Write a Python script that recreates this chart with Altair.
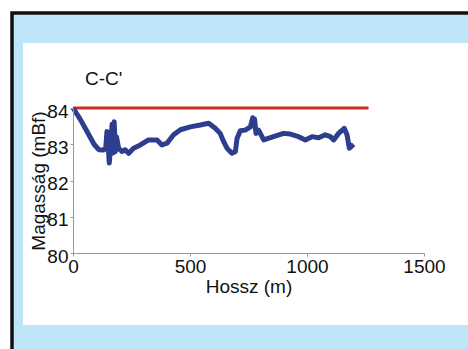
import altair as alt
import pandas as pd

# Profile C-C' : distance along section (m) and elevation (mBf)
hossz = [0, 30, 60, 90, 110, 131, 140, 145, 150, 155, 160, 167, 172, 176, 181, 186,
         195, 209, 223, 238, 259, 288, 323, 359, 380, 402, 430, 459, 501, 544, 580,
         608, 629, 644, 658, 679, 694, 701, 715, 736, 758, 768, 772, 776, 782, 793,
         815, 857, 900, 929, 964, 993, 1021, 1050, 1078, 1100, 1114, 1135, 1159,
         1171, 1181, 1188, 1199]
magassag = [84.0, 83.7, 83.35, 83.0, 82.85, 82.84, 82.9, 83.35, 83.0, 82.48, 82.9,
            83.55, 82.76, 83.62, 82.8, 83.2, 82.89, 82.8, 82.85, 82.75, 82.89, 82.98,
            83.12, 83.12, 82.98, 83.03, 83.26, 83.4, 83.48, 83.53, 83.58, 83.44, 83.3,
            83.07, 82.89, 82.75, 82.8, 83.16, 83.37, 83.39, 83.48, 83.73, 83.5, 83.7,
            83.3, 83.39, 83.12, 83.21, 83.3, 83.28, 83.21, 83.12, 83.21, 83.18, 83.26,
            83.21, 83.12, 83.3, 83.44, 83.26, 82.89, 82.93, 83.0]

ref_hossz = [0, 1263]
ref_magassag = [84, 84]

x_ticks = [0, 500, 1000, 1500]
y_ticks = [80, 81, 82, 83, 84]

profile = pd.DataFrame({"Hossz": hossz, "Magassag": magassag,
                        "i": list(range(len(hossz)))})
ref = pd.DataFrame({"Hossz": ref_hossz, "Magassag": ref_magassag})

FONT = "Liberation Sans"
FS = 19

xscale = alt.Scale(domain=[0, 1500], nice=False, zero=False)
yscale = alt.Scale(domain=[80, 84], nice=False, zero=False)

xaxis = alt.Axis(title="Hossz (m)", values=x_ticks, format="d", labelFlush=False,
                 grid=False, domainColor="#999999", tickColor="#999999", tickSize=3,
                 labelPadding=1, titlePadding=1, labelFontSize=FS, titleFontSize=FS,
                 labelFont=FONT, titleFont=FONT, labelColor="#111111",
                 titleColor="#111111", titleFontWeight="normal", zindex=1)
yaxis = alt.Axis(title="Magasság (mBf)", values=y_ticks, format="d", grid=False,
                 domainColor="#999999", tickColor="#999999", tickSize=3,
                 labelPadding=2, labelOffset=3, titlePadding=-2, labelFontSize=FS,
                 titleFontSize=FS, labelFont=FONT, titleFont=FONT,
                 labelColor="#111111", titleColor="#111111",
                 titleFontWeight="normal", zindex=1)

# Decorative frame (black border, light-blue panel, white inner panel)
frame = alt.Chart(pd.DataFrame({"a": [0]})).mark_rect(
    fill="#bfe6f8", stroke="#111111", strokeWidth=3.5
).encode(x=alt.value(-61), x2=alt.value(420), y=alt.value(-95), y2=alt.value(260))

inner = alt.Chart(pd.DataFrame({"a": [0]})).mark_rect(
    fill="white", strokeWidth=0
).encode(x=alt.value(-50), x2=alt.value(420), y=alt.value(-65), y2=alt.value(217))

title = alt.Chart(pd.DataFrame({"t": ["C-C'"]})).mark_text(
    align="left", baseline="middle", font=FONT, fontSize=19, color="#111111"
).encode(text="t:N", x=alt.value(12), y=alt.value(-29))

ref_line = alt.Chart(ref).mark_line(color="#d42a2a", strokeWidth=3).encode(
    x=alt.X("Hossz:Q", scale=xscale, axis=xaxis),
    y=alt.Y("Magassag:Q", scale=yscale, axis=yaxis),
)

prof_line = alt.Chart(profile).mark_line(color="#2d3e8e", strokeWidth=5,
                                         strokeJoin="round").encode(
    x=alt.X("Hossz:Q", scale=xscale, axis=xaxis),
    y=alt.Y("Magassag:Q", scale=yscale, axis=yaxis),
    order="i:Q",
)

chart = alt.layer(frame, inner, title, ref_line, prof_line).properties(
    width=351, height=145,
    autosize=alt.AutoSizeParams(type="none"),
    padding={"left": 73, "top": 108, "right": 44, "bottom": 96},
    background="white",
).configure_view(stroke=None)

chart.save("out.html", embed_options={"renderer": "svg", "actions": False})
